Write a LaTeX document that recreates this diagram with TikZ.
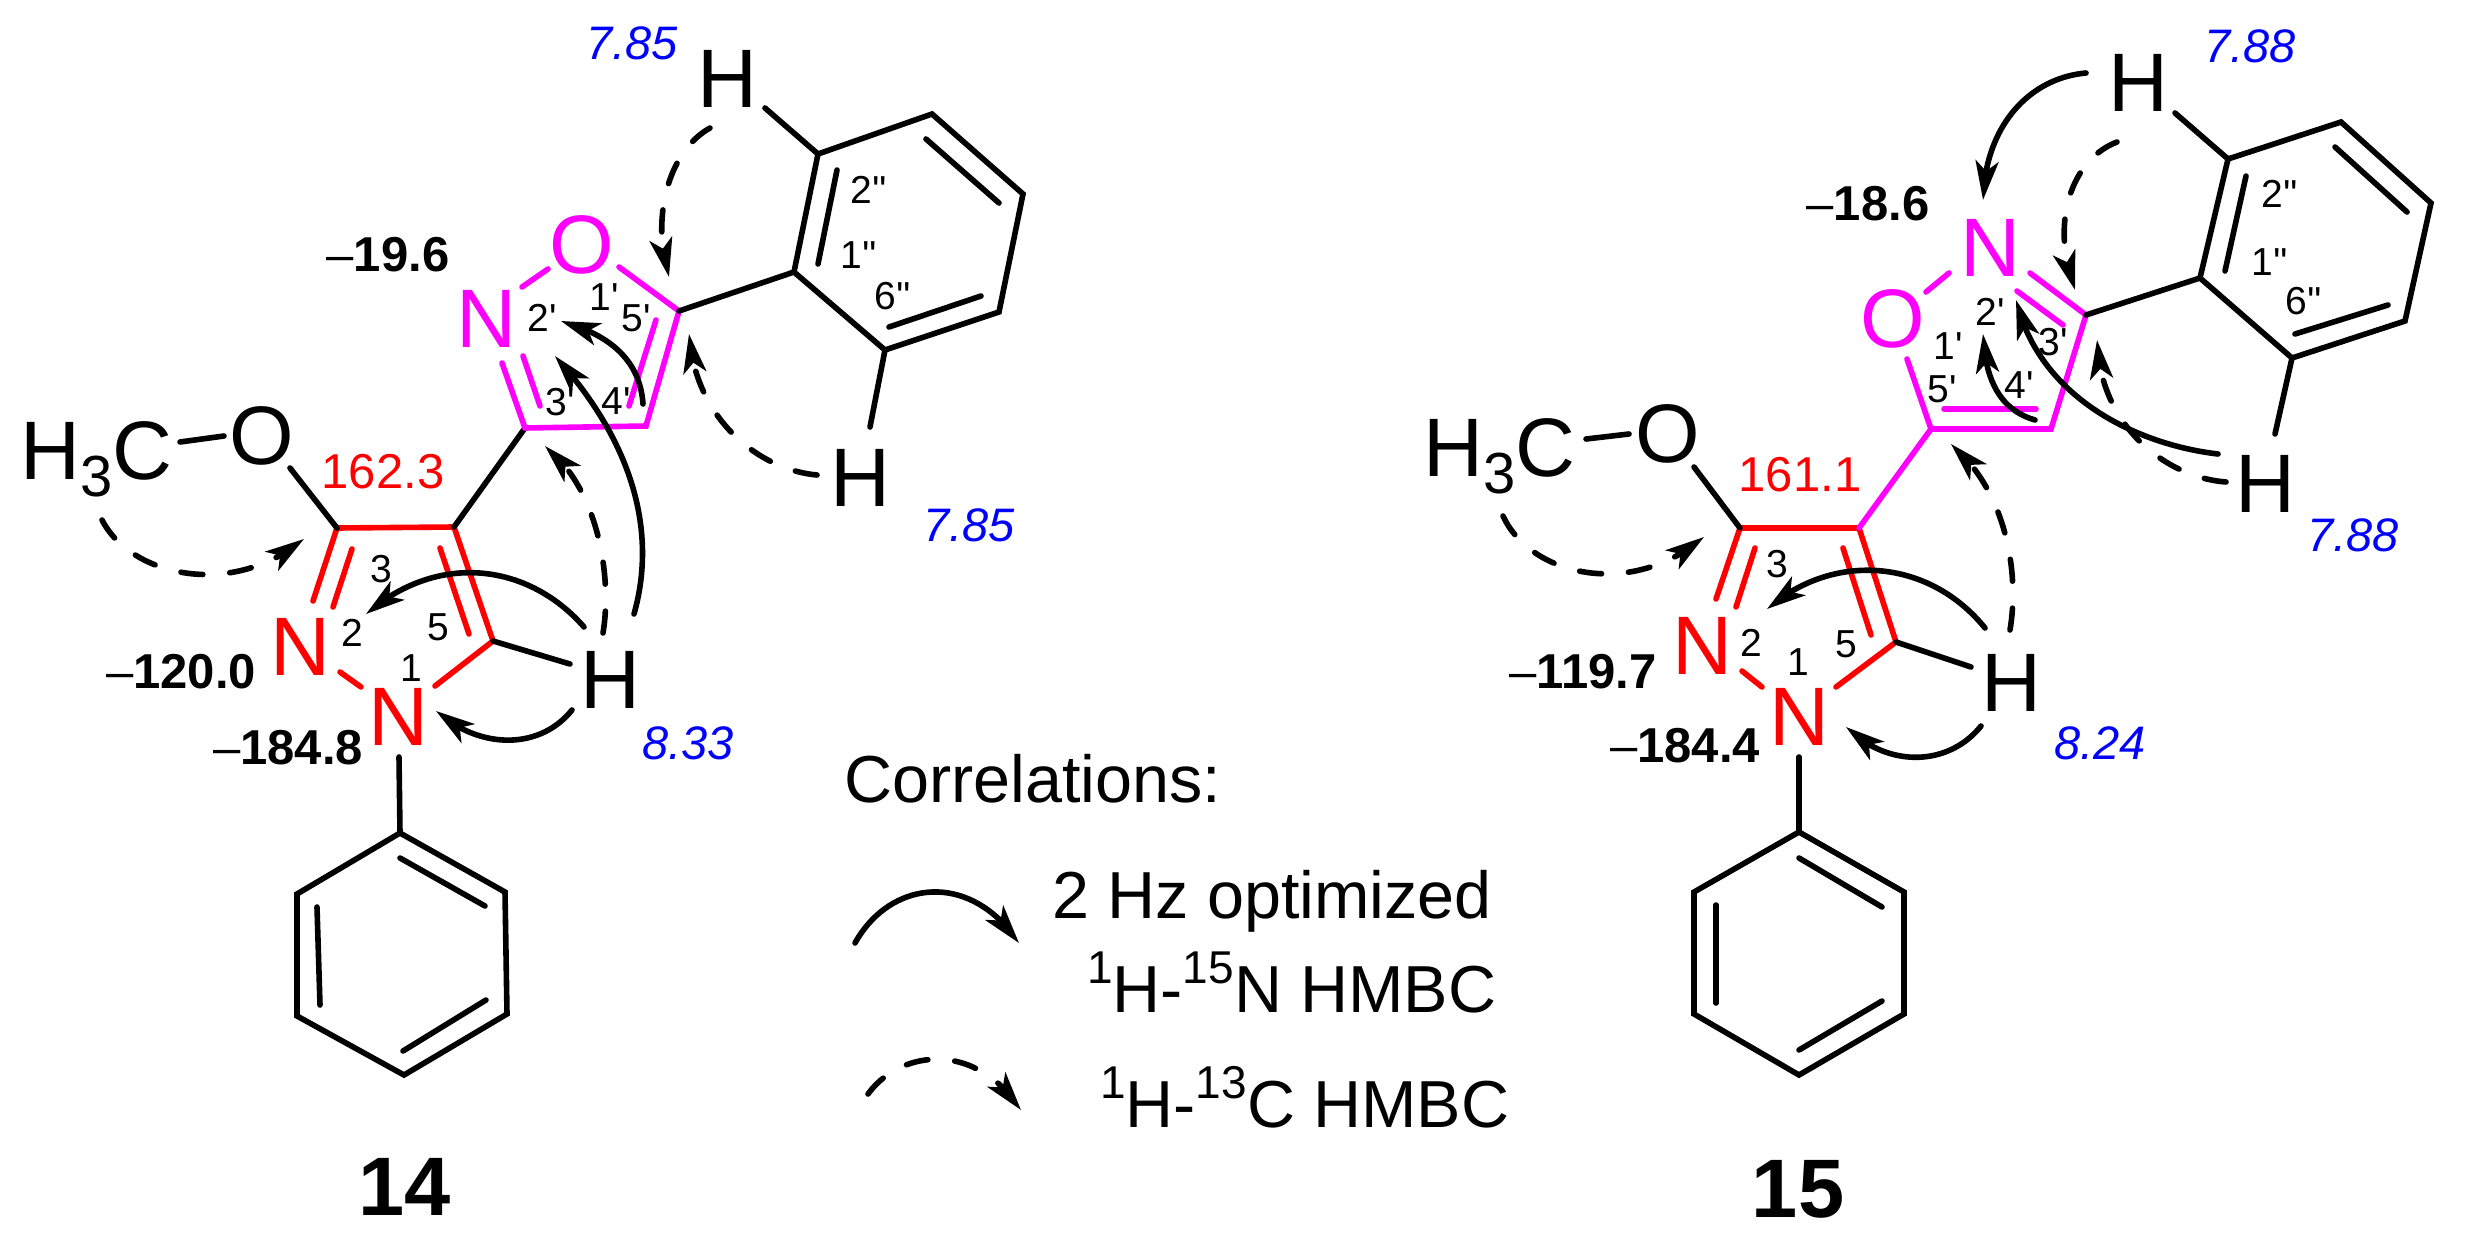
\documentclass[tikz,border=0pt]{standalone}
\usepackage{fontspec}
\setmainfont{Liberation Sans}
\usetikzlibrary{arrows.meta,bending}
\definecolor{mag}{RGB}{255,0,255}
\definecolor{blu}{RGB}{0,0,255}
\definecolor{rd}{RGB}{255,0,0}
\newcommand{\prm}{\textquotesingle}
\newcommand{\fsz}[1]{\fontsize{#1}{#1}\selectfont}
\newcommand{\sups}[1]{\raisebox{29pt}{\fsz{46}#1}}
\tikzset{
  bondline/.style={line width=5.6pt,line cap=round,line join=miter},
  blk/.style={bondline,draw=black},
  redb/.style={bondline,draw=rd},
  magb/.style={bondline,draw=mag},
  corr/.style={line width=5.6pt,line cap=round,draw=black,-{Stealth[length=39pt,width=23pt,inset=10pt,flex=1]}},
  corrd/.style={corr,dash pattern=on 22pt off 27pt},
  atomlbl/.style={inner sep=0pt,font=\fsz{83}},
  num/.style={inner sep=0pt,font=\fsz{39}},
  shift13/.style={inner sep=0pt,font=\fsz{49}\bfseries},
  redval/.style={inner sep=0pt,font=\fsz{49},text=rd},
  ppm/.style={inner sep=0pt,font=\fsz{47}\itshape,text=blu},
  legendtxt/.style={inner sep=0pt,anchor=base west,font=\fsz{66.5}},
  cpdno/.style={inner sep=0pt,font=\fsz{83}\bfseries}
}
\begin{document}
\begin{tikzpicture}[x=1pt,y=-1pt]
\useasboundingbox (0,0) rectangle (2466,1247);
\fill[white] (0,0) rectangle (2466,1247);

%%%%%%%%%%%%%%% compound 14 %%%%%%%%%%%%%%%
\coordinate (aC3) at (337,528);
\coordinate (aC4) at (454,527);
\coordinate (aC5) at (493,641);
\coordinate (aP1) at (400,833);
\coordinate (aP2) at (505,892);
\coordinate (aP3) at (507,1014);
\coordinate (aP4) at (404,1075);
\coordinate (aP5) at (297,1016);
\coordinate (aP6) at (297,894);
\coordinate (aI3) at (525,428);
\coordinate (aI4) at (646,426);
\coordinate (aI5) at (679,311);
\coordinate (aB1) at (794,272);
\coordinate (aB2) at (818,154);
\coordinate (aB3) at (932,114);
\coordinate (aB4) at (1023,194);
\coordinate (aB5) at (999,312);
\coordinate (aB6) at (885,350);

\node[atomlbl,text=rd] (aN2) at (300,647) {N};
\node[atomlbl,text=rd] (aN1) at (398,717) {N};
\node[atomlbl,text=mag] (aNi) at (486,319) {N};
\node[atomlbl,text=mag] (aOi) at (582,245) {O};
\node[atomlbl] (aOm) at (262,436) {O};
\node[atomlbl,anchor=base west] (aMe) at (20,479) {H{\fsz{58}\raisebox{-17pt}{3}}C};
\node[atomlbl] (aHa) at (727,79) {H};
\node[atomlbl] (aHb) at (860,478) {H};
\node[atomlbl] (aHc) at (610,680) {H};

% pyrazole
\draw[redb] (aC3) -- (aC4) -- (aC5);
\draw[redb] (aC3) -- (313,601);
\draw[redb] (352,549) -- (333,607);
\draw[redb] (440,548) -- (469,634);
\draw[redb] (340,672) -- (361,687);
\draw[redb] (435,686) -- (aC5);
\draw[blk] (aC5) -- (570,664);
\draw[blk] (399,757) -- (aP1);
\draw[blk] (aP1) -- (aP2) -- (aP3) -- (aP4) -- (aP5) -- (aP6) -- cycle;
\draw[blk] (400,858) -- (485,906);
\draw[blk] (317,907) -- (320,1005);
\draw[blk] (486,1000) -- (403,1051);
\draw[blk] (180,442) -- (224,436);
\draw[blk] (290,468) -- (aC3);
\draw[blk] (aC4) -- (aI3);
% isoxazole
\draw[magb] (aI3) -- (aI4) -- (aI5) -- (619,267);
\draw[magb] (548,269) -- (522,287);
\draw[magb] (502,363) -- (aI3);
\draw[magb] (523,356) -- (540,406);
\draw[magb] (656,320) -- (629,406);
\draw[blk] (aI5) -- (aB1);
\draw[blk] (aB1) -- (aB2) -- (aB3) -- (aB4) -- (aB5) -- (aB6) -- cycle;
\draw[blk] (818,264) -- (837,170);
\draw[blk] (926,139) -- (999,203);
\draw[blk] (981,296) -- (889,327);
\draw[blk] (aB2) -- (765,108);
\draw[blk] (aB6) -- (870,427);

% labels
\node[num] (a3) at (381,569) {3};
\node[num] (a2) at (352,633) {2};
\node[num] (a1) at (411,668) {1};
\node[num] (a5) at (438,627) {5};
\node[num] (a1p) at (604,297) {1\prm};
\node[num] (a2p) at (542,318) {2\prm};
\node[num] (a5p) at (636,318) {5\prm};
\node[num] (a3p) at (560,402) {3\prm};
\node[num] (a4p) at (616,401) {4\prm};
\node[num] (a1pp) at (859,255) {1\prm\prm};
\node[num] (a2pp) at (869,190) {2\prm\prm};
\node[num] (a6pp) at (893,296) {6\prm\prm};
\node[shift13] (av1) at (181,672) {{\mdseries –}120.0};
\node[shift13] (av2) at (288,748) {{\mdseries –}184.8};
\node[shift13] (av3) at (388,255) {{\mdseries –}19.6};
\node[redval] (av4) at (383,472) {162.3};
\node[ppm] (ap1) at (632,43) {7.85};
\node[ppm] (ap2) at (969,525) {7.85};
\node[ppm] (ap3) at (688,743) {8.33};
\node[cpdno] (a14) at (405,1187) {14};

% correlations
\coordinate (aS1) at (710,128);  \coordinate (aT1) at (669,277);
\coordinate (aS2) at (817,475);  \coordinate (aT2) at (689,334);
\coordinate (aS3) at (603,633);  \coordinate (aT3) at (545,446);
\coordinate (aS4) at (634,614);  \coordinate (aT4) at (555,356);
\coordinate (aS5) at (643,404);  \coordinate (aT5) at (561,321);
\coordinate (aS6) at (584,627);  \coordinate (aT6) at (366,614);
\coordinate (aS7) at (572,710);  \coordinate (aT7) at (436,711);
\coordinate (aS8) at (102,520);  \coordinate (aT8) at (304,539);
\draw[corrd] (aS1) .. controls (670,150) and (650,215) .. (aT1);
\draw[corrd] (aS2) .. controls (760,470) and (695,420) .. (aT2);
\draw[corrd] (aS3) .. controls (612,580) and (600,490) .. (aT3);
\draw[corr]  (aS4) .. controls (655,540) and (640,450) .. (aT4);
\draw[corr]  (aS5) .. controls (640,360) and (610,335) .. (aT5);
\draw[corr]  (aS6) .. controls (530,565) and (440,550) .. (aT6);
\draw[corr]  (aS7) .. controls (540,750) and (480,750) .. (aT7);
\draw[corrd] (aS8) .. controls (130,575) and (230,600) .. (aT8);

%%%%%%%%%%%%%%% compound 15 %%%%%%%%%%%%%%%
\coordinate (bC3) at (1740,528);
\coordinate (bC4) at (1859,528);
\coordinate (bC5) at (1896,642);
\coordinate (bP1) at (1799,832);
\coordinate (bP2) at (1904,892);
\coordinate (bP3) at (1904,1014);
\coordinate (bP4) at (1799,1075);
\coordinate (bP5) at (1694,1014);
\coordinate (bP6) at (1694,892);
\coordinate (bI3) at (2086,315);
\coordinate (bI4) at (2051,429);
\coordinate (bI5) at (1931,429);
\coordinate (bB1) at (2200,278);
\coordinate (bB2) at (2228,159);
\coordinate (bB3) at (2341,122);
\coordinate (bB4) at (2431,203);
\coordinate (bB5) at (2405,321);
\coordinate (bB6) at (2292,358);

\node[atomlbl,text=rd] (bN2) at (1702,646) {N};
\node[atomlbl,text=rd] (bN1) at (1799,717) {N};
\node[atomlbl,text=mag] (bNi) at (1990,248) {N};
\node[atomlbl,text=mag] (bOi) at (1893,319) {O};
\node[atomlbl] (bOm) at (1668,434) {O};
\node[atomlbl,anchor=base west] (bMe) at (1423,476) {H{\fsz{58}\raisebox{-17pt}{3}}C};
\node[atomlbl] (bHa) at (2138,83) {H};
\node[atomlbl] (bHb) at (2265,484) {H};
\node[atomlbl] (bHc) at (2011,683) {H};

\draw[redb] (bC3) -- (bC4) -- (bC5);
\draw[redb] (bC3) -- (1716,599);
\draw[redb] (1755,548) -- (1736,607);
\draw[redb] (1843,548) -- (1871,635);
\draw[redb] (1742,671) -- (1762,687);
\draw[redb] (1836,687) -- (bC5);
\draw[blk] (bC5) -- (1971,667);
\draw[blk] (1799,757) -- (bP1);
\draw[blk] (bP1) -- (bP2) -- (bP3) -- (bP4) -- (bP5) -- (bP6) -- cycle;
\draw[blk] (1799,858) -- (1882,907);
\draw[blk] (1716,905) -- (1716,1003);
\draw[blk] (1882,1001) -- (1799,1050);
\draw[blk] (1586,439) -- (1629,434);
\draw[blk] (1694,467) -- (bC3);
\draw[magb] (bC4) -- (bI5);
\draw[magb] (1907,359) -- (bI5) -- (bI4) -- (bI3) -- (2030,273);
\draw[magb] (1926,292) -- (1949,273);
\draw[magb] (2017,291) -- (2063,325);
\draw[magb] (1944,409) -- (2036,409);
\draw[blk] (bI3) -- (bB1);
\draw[blk] (bB1) -- (bB2) -- (bB3) -- (bB4) -- (bB5) -- (bB6) -- cycle;
\draw[blk] (2225,271) -- (2246,176);
\draw[blk] (2335,147) -- (2407,212);
\draw[blk] (2388,305) -- (2295,334);
\draw[blk] (bB2) -- (2175,113);
\draw[blk] (bB6) -- (2275,434);

\node[num] (b3) at (1777,564) {3};
\node[num] (b2) at (1751,643) {2};
\node[num] (b1) at (1798,662) {1};
\node[num] (b5) at (1846,644) {5};
\node[num] (b1p) at (1948,346) {1\prm};
\node[num] (b2p) at (1990,312) {2\prm};
\node[num] (b5p) at (1942,389) {5\prm};
\node[num] (b3p) at (2053,342) {3\prm};
\node[num] (b4p) at (2019,385) {4\prm};
\node[num] (b1pp) at (2270,262) {1\prm\prm};
\node[num] (b2pp) at (2280,194) {2\prm\prm};
\node[num] (b6pp) at (2304,301) {6\prm\prm};
\node[shift13] (bv1) at (1583,672) {{\mdseries –}119.7};
\node[shift13] (bv2) at (1685,746) {{\mdseries –}184.4};
\node[shift13] (bv3) at (1868,204) {{\mdseries –}18.6};
\node[redval] (bv4) at (1800,475) {161.1};
\node[ppm] (bp1) at (2250,46) {7.88};
\node[ppm] (bp2) at (2353,535) {7.88};
\node[ppm] (bp3) at (2100,743) {8.24};
\node[cpdno] (b15) at (1798,1189) {15};

\coordinate (bS1) at (2086,73);   \coordinate (bT1) at (1983,200);
\coordinate (bS2) at (2117,142);  \coordinate (bT2) at (2075,290);
\coordinate (bS3) at (2226,482);  \coordinate (bT3) at (2097,340);
\coordinate (bS4) at (2218,454);  \coordinate (bT4) at (2016,300);
\coordinate (bS5) at (2035,420);  \coordinate (bT5) at (1983,334);
\coordinate (bS6) at (2010,630);  \coordinate (bT6) at (1951,444);
\coordinate (bS7) at (1985,628);  \coordinate (bT7) at (1767,609);
\coordinate (bS8) at (1981,726);  \coordinate (bT8) at (1846,727);
\coordinate (bS9) at (1503,516);  \coordinate (bT9) at (1704,537);
\draw[corr]  (bS1) .. controls (2030,78) and (1985,125) .. (bT1);
\draw[corrd] (bS2) .. controls (2070,160) and (2050,225) .. (bT2);
\draw[corrd] (bS3) .. controls (2170,478) and (2100,430) .. (bT3);
\draw[corr]  (bS4) .. controls (2140,445) and (2040,400) .. (bT4);
\draw[corr]  (bS5) .. controls (2000,410) and (1985,380) .. (bT5);
\draw[corrd] (bS6) .. controls (2020,570) and (2005,490) .. (bT6);
\draw[corr]  (bS7) .. controls (1930,560) and (1835,550) .. (bT7);
\draw[corr]  (bS8) .. controls (1950,765) and (1890,770) .. (bT8);
\draw[corrd] (bS9) .. controls (1530,575) and (1630,600) .. (bT9);

%%%%%%%%%%%%%%% legend %%%%%%%%%%%%%%%
\node[legendtxt] (lg0) at (844,802) {Correlations:};
\node[legendtxt] (lg1) at (1052,918) {2 Hz optimized};
\node[legendtxt] (lg2) at (1087,1012) {\sups{1}H-\sups{15}N HMBC};
\node[legendtxt] (lg3) at (1100,1127) {\sups{1}H-\sups{13}C HMBC};
\coordinate (lS1) at (855,943);  \coordinate (lT1) at (1019,943);
\coordinate (lS2) at (868,1094); \coordinate (lT2) at (1021,1110);
\draw[corr]  (lS1) .. controls (890,880) and (970,870) .. (lT1);
\draw[corrd] (lS2) .. controls (900,1050) and (975,1040) .. (lT2);
\end{tikzpicture}
\end{document}
